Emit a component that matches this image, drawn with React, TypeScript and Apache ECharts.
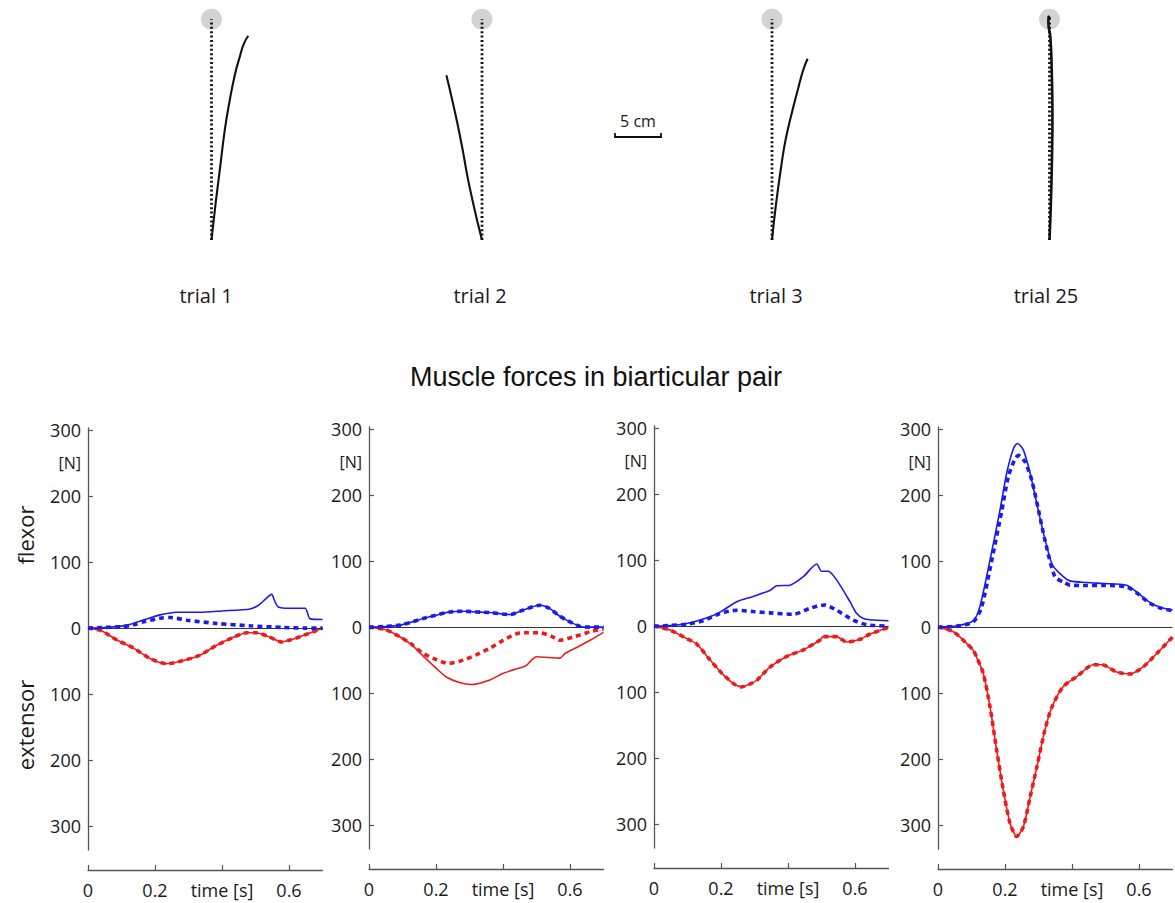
import React, { useEffect, useRef } from "react";
import * as echarts from "echarts";

type Pt = [number, number];

// ---------- Hand paths (cm; origin = start position, target straight ahead) ----------
const TARGET_CM = 24;
const trialNames = ["trial 1", "trial 2", "trial 3", "trial 25"];
const path1: Pt[] = [[0, 0], [0.45, 4], [0.95, 8], [1.45, 12], [1.95, 15], [2.55, 18], [3.1, 20], [3.5, 21.3], [4.0, 22.2]];
const path2: Pt[] = [[0, 0], [-0.5, 2.0], [-1.04, 4.35], [-1.6, 7.0], [-2.1, 9.8], [-2.7, 12.8], [-3.3, 15.5], [-3.87, 17.9]];
const path3: Pt[] = [[0, 0], [0.45, 4], [1.0, 8], [1.5, 11], [2.2, 14], [2.85, 16.5], [3.4, 18.5], [3.87, 19.7]];
const path25: Pt[] = [[0, 0], [0.15, 4], [0.27, 9], [0.32, 13.4], [0.25, 18], [0.1, 22], [-0.12, 23.6], [-0.08, 24.3], [0.05, 24.0]];
const paths = [path1, path2, path3, path25];
const SCALE_BAR_CM = 5;

// ---------- Muscle forces [time s, force N]; extensor forces plotted downward ----------
const TIME_TICKS = [0, 0.2, 0.4, 0.6];
const FORCE_TICKS = [300, 200, 100, 0, -100, -200, -300];
const FORCE_LABELS = [300, 250, 200, 100, 0, -100, -200, -300];

const t1FlexorSolid: Pt[] = [[0, 0], [0.05, 1], [0.1, 3], [0.135, 7], [0.17, 13], [0.215, 20], [0.265, 24], [0.334, 24], [0.4, 26], [0.484, 29], [0.51, 35], [0.53, 44], [0.548, 51], [0.558, 40], [0.568, 32], [0.6, 30], [0.648, 30], [0.663, 14], [0.7, 13]];
const t1FlexorDashed: Pt[] = [[0, 0], [0.05, 1], [0.1, 2], [0.135, 5], [0.17, 10], [0.215, 15], [0.245, 16], [0.295, 12], [0.385, 7], [0.484, 3.5], [0.583, 1], [0.65, 0], [0.7, 0]];
const t1ExtensorSolid: Pt[] = [[0, 0], [0.04, 4], [0.086, 18], [0.135, 30], [0.185, 46], [0.235, 54], [0.285, 49], [0.334, 41], [0.384, 26], [0.434, 14], [0.474, 7], [0.5, 7], [0.54, 13], [0.578, 21], [0.603, 18], [0.633, 13], [0.67, 6], [0.7, 0]];
const t1ExtensorDashed: Pt[] = [[0, 0], [0.04, 4], [0.086, 18], [0.135, 30], [0.185, 46], [0.235, 54], [0.285, 49], [0.334, 41], [0.384, 26], [0.434, 14], [0.474, 7], [0.5, 7], [0.54, 13], [0.578, 21], [0.603, 18], [0.633, 13], [0.67, 6], [0.7, 0]];

const t2FlexorSolid: Pt[] = [[0, 0], [0.05, 1], [0.093, 3], [0.13, 8], [0.162, 13], [0.2, 18], [0.242, 23], [0.281, 24], [0.32, 23], [0.361, 22], [0.421, 19], [0.461, 26], [0.51, 33], [0.54, 28], [0.565, 18], [0.59, 10.6], [0.63, 1], [0.66, 0], [0.7, 0]];
const t2FlexorDashed: Pt[] = [[0, 0], [0.05, 1], [0.093, 3], [0.13, 8], [0.162, 13], [0.2, 18], [0.242, 23], [0.281, 24], [0.32, 23], [0.361, 22], [0.421, 19], [0.461, 26], [0.51, 33], [0.54, 28], [0.565, 18], [0.59, 10.6], [0.63, 1], [0.66, 0], [0.7, 0]];
const t2ExtensorSolid: Pt[] = [[0, 0], [0.05, 4], [0.093, 15], [0.13, 28], [0.162, 44], [0.2, 62], [0.232, 76], [0.27, 84], [0.305, 87], [0.361, 80], [0.401, 70], [0.461, 60], [0.47, 58], [0.485, 50], [0.5, 45], [0.57, 47], [0.585, 40], [0.62, 31], [0.66, 20], [0.7, 8]];
const t2ExtensorDashed: Pt[] = [[0, 0], [0.05, 4], [0.093, 15], [0.13, 27], [0.162, 40], [0.2, 49], [0.237, 55], [0.281, 50], [0.32, 42], [0.361, 32], [0.4, 20], [0.441, 10], [0.461, 8.6], [0.51, 8.6], [0.545, 14], [0.57, 20], [0.61, 15], [0.66, 7], [0.7, 3]];

const t3FlexorSolid: Pt[] = [[0, 0], [0.05, 1], [0.098, 4], [0.13, 8], [0.167, 14], [0.2, 22], [0.247, 37], [0.296, 45], [0.346, 54], [0.366, 61], [0.406, 62], [0.446, 75], [0.486, 94], [0.5, 83], [0.52, 83], [0.545, 70], [0.585, 37], [0.605, 19], [0.625, 11.6], [0.645, 9.6], [0.7, 8]];
const t3FlexorDashed: Pt[] = [[0, 0], [0.05, 1], [0.1, 3], [0.147, 8], [0.197, 19], [0.247, 24], [0.296, 22], [0.346, 20], [0.416, 18], [0.466, 27], [0.51, 32], [0.545, 24], [0.595, 9], [0.635, 2], [0.7, 0]];
const t3ExtensorSolid: Pt[] = [[0, 0], [0.048, 6], [0.098, 19], [0.127, 27], [0.167, 51], [0.2, 70], [0.237, 87], [0.262, 92], [0.285, 88], [0.307, 82], [0.346, 62], [0.396, 46], [0.446, 36], [0.496, 21], [0.505, 16], [0.545, 16], [0.575, 24], [0.615, 20], [0.645, 12], [0.7, 2]];
const t3ExtensorDashed: Pt[] = [[0, 0], [0.048, 6], [0.098, 19], [0.127, 27], [0.167, 51], [0.2, 70], [0.237, 87], [0.262, 92], [0.285, 88], [0.307, 82], [0.346, 62], [0.396, 46], [0.446, 36], [0.496, 21], [0.505, 16], [0.545, 16], [0.575, 24], [0.615, 20], [0.645, 12], [0.7, 2]];

const t25FlexorSolid: Pt[] = [[0, 0], [0.056, 2], [0.105, 9.5], [0.125, 31], [0.155, 101], [0.185, 177], [0.205, 233], [0.225, 270], [0.237, 278], [0.255, 268], [0.275, 233], [0.295, 187], [0.315, 142], [0.34, 96], [0.364, 81], [0.394, 70], [0.444, 67.5], [0.493, 66], [0.563, 63.5], [0.593, 53], [0.633, 37], [0.663, 30], [0.7, 26]];
const t25FlexorDashed: Pt[] = [[0, 0], [0.056, 1.5], [0.105, 8], [0.13, 30], [0.16, 100], [0.19, 175], [0.21, 228], [0.23, 255], [0.24, 260], [0.26, 250], [0.28, 222], [0.3, 177], [0.32, 130], [0.349, 76], [0.375, 68], [0.394, 63.5], [0.444, 63], [0.493, 63], [0.563, 61], [0.593, 52], [0.633, 36], [0.663, 29], [0.7, 25]];
const t25ExtensorSolid: Pt[] = [[0, 0], [0.046, 7], [0.086, 25], [0.105, 35], [0.115, 45], [0.135, 70], [0.155, 120], [0.175, 186], [0.195, 247], [0.215, 297], [0.235, 317], [0.255, 302], [0.275, 257], [0.295, 212], [0.319, 156], [0.34, 121], [0.374, 90], [0.414, 75], [0.464, 57], [0.49, 57], [0.533, 68], [0.573, 71], [0.613, 60], [0.653, 40], [0.7, 15]];
const t25ExtensorDashed: Pt[] = [[0, 0], [0.046, 7], [0.086, 25], [0.105, 35], [0.115, 45], [0.135, 70], [0.155, 120], [0.175, 186], [0.195, 247], [0.215, 297], [0.235, 317], [0.255, 302], [0.275, 257], [0.295, 212], [0.319, 156], [0.34, 121], [0.374, 90], [0.414, 75], [0.464, 57], [0.49, 57], [0.533, 68], [0.573, 71], [0.613, 60], [0.653, 40], [0.7, 15]];

const panels = [
  { flexSolid: t1FlexorSolid, flexDashed: t1FlexorDashed, extSolid: t1ExtensorSolid, extDashed: t1ExtensorDashed },
  { flexSolid: t2FlexorSolid, flexDashed: t2FlexorDashed, extSolid: t2ExtensorSolid, extDashed: t2ExtensorDashed },
  { flexSolid: t3FlexorSolid, flexDashed: t3FlexorDashed, extSolid: t3ExtensorSolid, extDashed: t3ExtensorDashed },
  { flexSolid: t25FlexorSolid, flexDashed: t25FlexorDashed, extSolid: t25ExtensorSolid, extDashed: t25ExtensorDashed },
];

// ---------- Layout ----------
const W = 1175;
const H = 903;
const PX_PER_CM = 9.2;
const PATH_CX = [211.5, 482, 772, 1049.5];
const PATH_BASE_Y = 240;
const LABEL_CX = [206, 480, 776, 1046];
const PANEL_LEFT = [88, 369, 654, 938];
const PANEL_TOP = [428, 427, 426, 427];
const PANEL_H = 422;
const PX_PER_SEC = 335;
const T_MAX = 0.7;
const F_MIN = -336;
const F_MAX = 303;

const BLUE = "#1b1bec";
const RED = "#ec1c1c";
const AXIS = "#555";
const TXT = "#1a1a1a";
const SANS = "'Open Sans', 'DejaVu Sans', sans-serif";

const neg = (d: Pt[]): Pt[] => d.map(([t, f]) => [t, -f] as Pt);

function buildOption() {
  const grid: any[] = [];
  const xAxis: any[] = [];
  const yAxis: any[] = [];
  const series: any[] = [];

  // Hand paths: one hidden cm-scaled grid per trial
  paths.forEach((p, i) => {
    grid.push({
      left: PATH_CX[i] - 6 * PX_PER_CM,
      top: PATH_BASE_Y - 26 * PX_PER_CM,
      width: 12 * PX_PER_CM,
      height: 28 * PX_PER_CM,
    });
    xAxis.push({ type: "value", gridIndex: i, min: -6, max: 6, show: false });
    yAxis.push({ type: "value", gridIndex: i, min: -2, max: 26, show: false });
    series.push(
      {
        type: "scatter",
        xAxisIndex: i,
        yAxisIndex: i,
        data: [[0, TARGET_CM]],
        symbolSize: 21,
        itemStyle: { color: "#c8c8c8" },
        silent: true,
        z: 1,
      },
      {
        type: "line",
        xAxisIndex: i,
        yAxisIndex: i,
        data: [[0, 0], [0, TARGET_CM]],
        showSymbol: false,
        lineStyle: { color: "#111", width: 2.8, type: [2, 2.4] },
        silent: true,
        z: 2,
      },
      {
        type: "line",
        xAxisIndex: i,
        yAxisIndex: i,
        data: p,
        smooth: 0.5,
        showSymbol: false,
        lineStyle: { color: "#111", width: i === 3 ? 2.6 : 2.1 },
        silent: true,
        z: 3,
      }
    );
  });

  // Force panels
  panels.forEach((pn, k) => {
    const gi = paths.length + k;
    grid.push({ left: PANEL_LEFT[k], top: PANEL_TOP[k], width: T_MAX * PX_PER_SEC, height: PANEL_H });
    xAxis.push({
      type: "value",
      gridIndex: gi,
      min: 0,
      max: T_MAX,
      position: "bottom",
      offset: 20,
      axisLine: { show: true, onZero: false, lineStyle: { color: AXIS, width: 1.3 } },
      axisTick: { show: true, inside: true, length: 5, customValues: TIME_TICKS, lineStyle: { color: AXIS, width: 1.2 } },
      axisLabel: {
        customValues: TIME_TICKS,
        margin: 11,
        fontSize: 18,
        fontFamily: SANS,
        color: TXT,
        formatter: (v: number) => (Math.abs(v - 0.4) < 1e-6 ? "time [s]" : v === 0 ? "0" : String(+v.toFixed(1))),
      },
      splitLine: { show: false },
    });
    yAxis.push({
      type: "value",
      gridIndex: gi,
      min: F_MIN,
      max: F_MAX,
      axisLine: { show: true, onZero: false, lineStyle: { color: AXIS, width: 1.3 } },
      axisTick: { show: true, inside: true, length: 5, customValues: FORCE_TICKS, lineStyle: { color: AXIS, width: 1.2 } },
      axisLabel: {
        customValues: FORCE_LABELS,
        margin: 7,
        fontSize: 18,
        fontFamily: SANS,
        color: TXT,
        formatter: (v: number) => (v === 250 ? "{u|[N]}" : String(Math.abs(v))),
        rich: { u: { fontSize: 16, fontFamily: SANS, color: TXT } },
      },
      splitLine: { show: false },
    });

    const common = { xAxisIndex: gi, yAxisIndex: gi, showSymbol: false, smooth: 0.25, silent: true };
    series.push(
      {
        ...common,
        type: "line",
        name: "extensor",
        data: neg(pn.extSolid),
        lineStyle: { color: RED, width: 1.6 },
        markLine: {
          silent: true,
          symbol: "none",
          label: { show: false },
          lineStyle: { color: "#333", width: 1, type: "solid" },
          data: [{ yAxis: 0 }],
        },
        z: 3,
      },
      {
        ...common,
        type: "line",
        name: "extensor (dashed)",
        data: neg(pn.extDashed),
        lineStyle: { color: RED, width: 3.6, type: [5, 4] },
        z: 4,
      },
      {
        ...common,
        type: "line",
        name: "flexor",
        data: pn.flexSolid,
        lineStyle: { color: BLUE, width: 1.6 },
        z: 5,
      },
      {
        ...common,
        type: "line",
        name: "flexor (dashed)",
        data: pn.flexDashed,
        lineStyle: { color: BLUE, width: 3.6, type: [5, 4] },
        z: 6,
      }
    );
  });

  const graphic: any[] = [
    // scale bar
    {
      type: "polyline",
      shape: { points: [[615, 133], [615, 137], [615 + SCALE_BAR_CM * PX_PER_CM, 137], [615 + SCALE_BAR_CM * PX_PER_CM, 133]] },
      style: { stroke: "#111", lineWidth: 1.8, fill: null },
      silent: true,
    },
    {
      type: "text",
      x: 615 + (SCALE_BAR_CM * PX_PER_CM) / 2,
      y: 121,
      style: { text: "5 cm", fontSize: 16, fontFamily: SANS, fill: TXT, textAlign: "center", textVerticalAlign: "middle" },
      silent: true,
    },
    // title
    {
      type: "text",
      x: 596,
      y: 377,
      style: {
        text: "Muscle forces in biarticular pair",
        fontSize: 27,
        fontFamily: "'Liberation Sans', Arial, sans-serif",
        fill: "#111",
        textAlign: "center",
        textVerticalAlign: "middle",
      },
      silent: true,
    },
    // side labels
    {
      type: "text",
      x: 25,
      y: 535,
      rotation: Math.PI / 2,
      style: { text: "flexor", fontSize: 22, fontFamily: SANS, fill: TXT, textAlign: "center", textVerticalAlign: "middle" },
      silent: true,
    },
    {
      type: "text",
      x: 25,
      y: 725,
      rotation: Math.PI / 2,
      style: { text: "extensor", fontSize: 22, fontFamily: SANS, fill: TXT, textAlign: "center", textVerticalAlign: "middle" },
      silent: true,
    },
  ];
  trialNames.forEach((name, i) => {
    graphic.push({
      type: "text",
      x: LABEL_CX[i],
      y: 295,
      style: { text: name, fontSize: 20, fontFamily: SANS, fill: TXT, textAlign: "center", textVerticalAlign: "middle" },
      silent: true,
    });
  });

  return {
    animation: false,
    backgroundColor: "#ffffff",
    grid,
    xAxis,
    yAxis,
    series,
    graphic,
  };
}

export default function App() {
  const ref = useRef<HTMLDivElement>(null);
  useEffect(() => {
    if (!ref.current) return;
    const chart = echarts.init(ref.current, undefined, { renderer: "svg", width: W, height: H });
    chart.setOption(buildOption());
    return () => chart.dispose();
  }, []);
  return <div ref={ref} style={{ position: "absolute", left: 0, top: 0, width: W, height: H }} />;
}
